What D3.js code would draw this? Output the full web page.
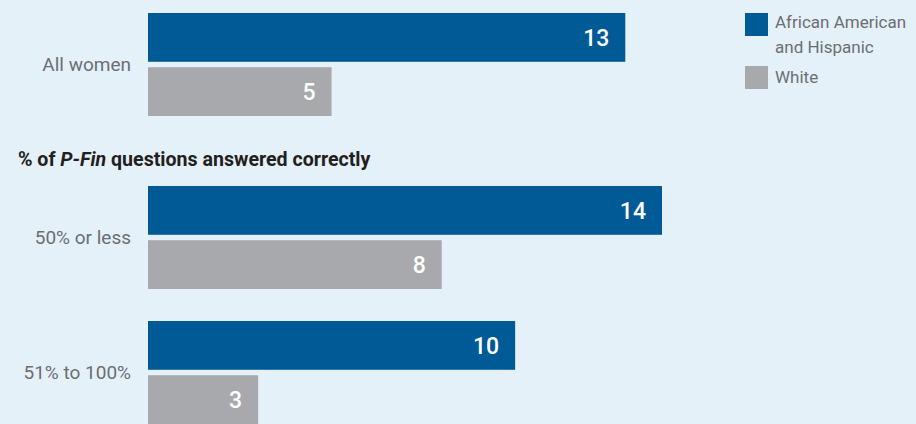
<!DOCTYPE html>
<html>
<head>
<meta charset="utf-8">
<script src="https://cdn.jsdelivr.net/npm/d3@7.9.0/dist/d3.min.js"></script>
<style>
  html, body { margin: 0; padding: 0; background: #e4f1f9; }
  svg { display: block; font-family: "Liberation Sans Narrow", "Arial Narrow", "Roboto", sans-serif; }
</style>
</head>
<body>
<div id="chart"></div>
<script>
// data
const categories = ["All women", "50% or less", "51% to 100%"];
const seriesNames = ["African American and Hispanic", "White"];
const minorityValues = [13, 14, 10];
const whiteValues = [5, 8, 3];
const subtitle = "questions answered correctly";

const W = 916, H = 424;
const colors = ["#005a96", "#a7a9ac"];

const svg = d3.select("#chart").append("svg")
  .attr("width", W)
  .attr("height", H);

svg.append("rect").attr("width", W).attr("height", H).attr("fill", "#e4f1f9");

// x scale: value -> pixels
const x = d3.scaleLinear().domain([0, 14]).range([148, 662]);

// group tops: first group, then a heading, then the other two
const groupStep = 135, headingGap = 38, firstTop = 13;
const groupTop = i => firstTop + i * groupStep + (i > 0 ? headingGap : 0);

const sub = d3.scaleBand().domain(seriesNames).range([0, 103]).paddingInner(0.1);

const rows = categories.map((c, i) => ({
  cat: c, i,
  vals: [minorityValues[i], whiteValues[i]]
}));

const g = svg.selectAll(".grp")
  .data(rows)
  .enter().append("g")
  .attr("class", "grp")
  .attr("transform", d => `translate(0,${groupTop(d.i)})`);

g.append("text")
  .attr("x", 131)
  .attr("y", 103 / 2)
  .attr("dy", "0.35em")
  .attr("text-anchor", "end")
  .attr("fill", "#6d6e71")
  .style("font-size", "19px")
  .text(d => d.cat);

const bars = g.selectAll(".bar")
  .data(d => d.vals.map((v, k) => ({ v, s: seriesNames[k], k })))
  .enter().append("g");

bars.append("rect")
  .attr("x", x(0))
  .attr("y", d => sub(d.s))
  .attr("width", d => x(d.v) - x(0))
  .attr("height", sub.bandwidth())
  .attr("fill", d => colors[d.k]);

bars.append("text")
  .attr("x", d => x(d.v) - 16)
  .attr("y", d => sub(d.s) + sub.bandwidth() / 2)
  .attr("dy", "0.36em")
  .attr("text-anchor", "end")
  .attr("fill", "#fff")
  .style("font-size", "23px")
  .style("font-weight", 500)
  .text(d => d.v);

// section heading
const head = svg.append("text")
  .attr("x", 18)
  .attr("y", 166)
  .attr("fill", "#231f20")
  .style("font-size", "19.6px")
  .style("font-weight", "bold");
head.append("tspan").text("% of ");
head.append("tspan").style("font-style", "italic").text("P-Fin");
head.append("tspan").text(" " + subtitle);

// legend
const legend = svg.append("g").attr("transform", "translate(745,13)");
const legendLines = [["African American", "and Hispanic"], ["White"]];
legendLines.forEach((lines, k) => {
  const row = legend.append("g").attr("transform", `translate(0,${k * 53})`);
  row.append("rect")
    .attr("width", 23)
    .attr("height", 23)
    .attr("fill", colors[k]);
  const t = row.append("text")
    .attr("x", 30)
    .attr("y", k === 0 ? 15 : 17)
    .attr("fill", "#6d6e71")
    .style("font-size", "17px");
  lines.forEach((l, j) => {
    t.append("tspan").attr("x", 30).attr("dy", j === 0 ? 0 : 25).text(l);
  });
});
</script>
</body>
</html>
